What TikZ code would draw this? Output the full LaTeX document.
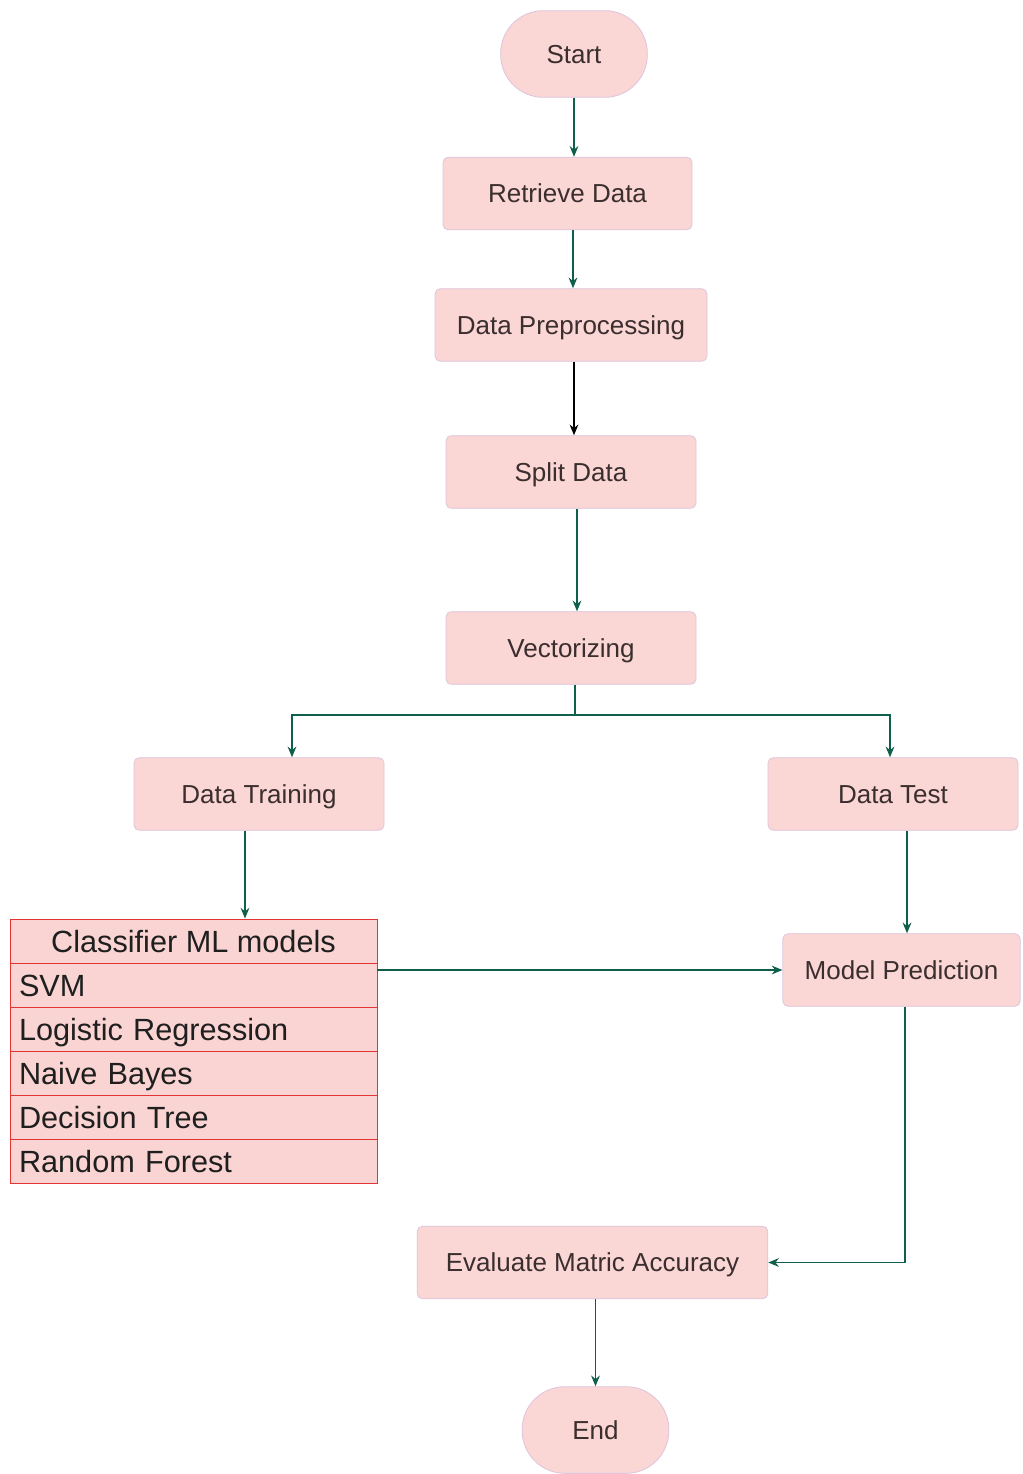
\documentclass[tikz,border=0pt]{standalone}
\usepackage{fontspec}
\setmainfont{Liberation Sans}
\usetikzlibrary{arrows.meta,calc}
\definecolor{boxfill}{RGB}{250,214,212}
\definecolor{boxline}{RGB}{222,196,222}
\definecolor{tablefill}{RGB}{249,212,210}
\definecolor{tableline}{RGB}{226,54,54}
\definecolor{flow}{RGB}{16,94,76}
\definecolor{boxtext}{RGB}{58,46,46}

\begin{document}
\begin{tikzpicture}[x=0.75pt,y=-0.75pt,
  stepbox/.style={draw=boxline,fill=boxfill,rounded corners=4pt,line width=0.6pt,
    text=boxtext,font=\fontsize{19.5}{23}\selectfont,minimum height=54.5pt,
    inner sep=0pt,text height=14pt,text depth=0pt},
  terminal/.style={stepbox,rounded corners=32pt,minimum width=110pt,minimum height=65pt},
  row/.style={draw=tableline,fill=tablefill,line width=0.7pt,minimum width=275.25pt,
    minimum height=33pt,inner sep=0pt,font=\fontsize{23}{27}\selectfont,
    text=black!88,text height=16.5pt,text depth=0pt},
  item/.style={row,text width=261.75pt,align=left,inner xsep=6.75pt},
  flowline/.style={draw=flow,line width=1.15pt,-{Stealth[length=8pt,width=6.5pt]}}]

\path[use as bounding box,fill=white] (0,0) rectangle (1022,1474);

% main flow
\node[terminal] (start) at (574,54) {Start};
\node[stepbox,minimum width=186.75pt] (retrieve) at (567.5,193.5) {Retrieve Data};
\node[stepbox,minimum width=204pt] (prep) at (571,325) {Data Preprocessing};
\node[stepbox,minimum width=187.5pt] (split) at (571,472) {Split Data};
\node[stepbox,minimum width=187.5pt] (vec) at (571,648) {Vectorizing};
\node[stepbox,minimum width=187.5pt] (train) at (259,794) {Data Training};
\node[stepbox,minimum width=187.5pt] (test) at (893,794) {Data Test};
\node[stepbox,minimum width=178pt] (pred) at (901.5,970) {Model Prediction};
\node[stepbox,minimum width=263pt] (eval) at (592.5,1262.5) {Evaluate Matric Accuracy};
\node[terminal] (end) at (595.5,1430) {End};

% classifier table
\node[row] (hdr) at (193.5,941) {Classifier ML models};
\node[item] (svm) at (193.5,985) {SVM};
\node[item] (lr) at (193.5,1029) {Logistic Regression};
\node[item] (nb) at (193.5,1073) {Naive Bayes};
\node[item] (dt) at (193.5,1117) {Decision Tree};
\node[item] (rf) at (193.5,1161) {Random Forest};

% connectors
\draw[flowline] (start.south) -- (start.south |- retrieve.north);
\draw[flowline] ($(retrieve.south)+(5.5,0)$) -- ($(prep.north)+(2,0)$);
\draw[flowline,draw=black] ($(prep.south)+(3,0)$) -- ($(split.north)+(3,0)$);
\draw[flowline] ($(split.south)+(6,0)$) -- ($(vec.north)+(6,0)$);
\coordinate (fork) at ($(vec.south)+(4,30)$);
\draw[draw=flow,line width=1.15pt] ($(vec.south)+(4,0)$) -- (fork);
\draw[flowline] (fork) -| ($(train.north)+(33,0)$);
\draw[flowline] (fork) -| ($(test.north)+(-3,0)$);
\draw[flowline] ($(train.south)+(-14,0)$) -- ($(hdr.north)+(51.5,0)$);
\draw[flowline] ($(test.south)+(14,0)$) -- ($(pred.north)+(5.5,0)$);
\draw[flowline] (pred.west -| svm.east) -- (pred.west);
\draw[flowline] ($(pred.south)+(3.5,0)$) |- (eval.east);
\draw[flowline] (eval.south -| end) -- (end.north);
\end{tikzpicture}
\end{document}
